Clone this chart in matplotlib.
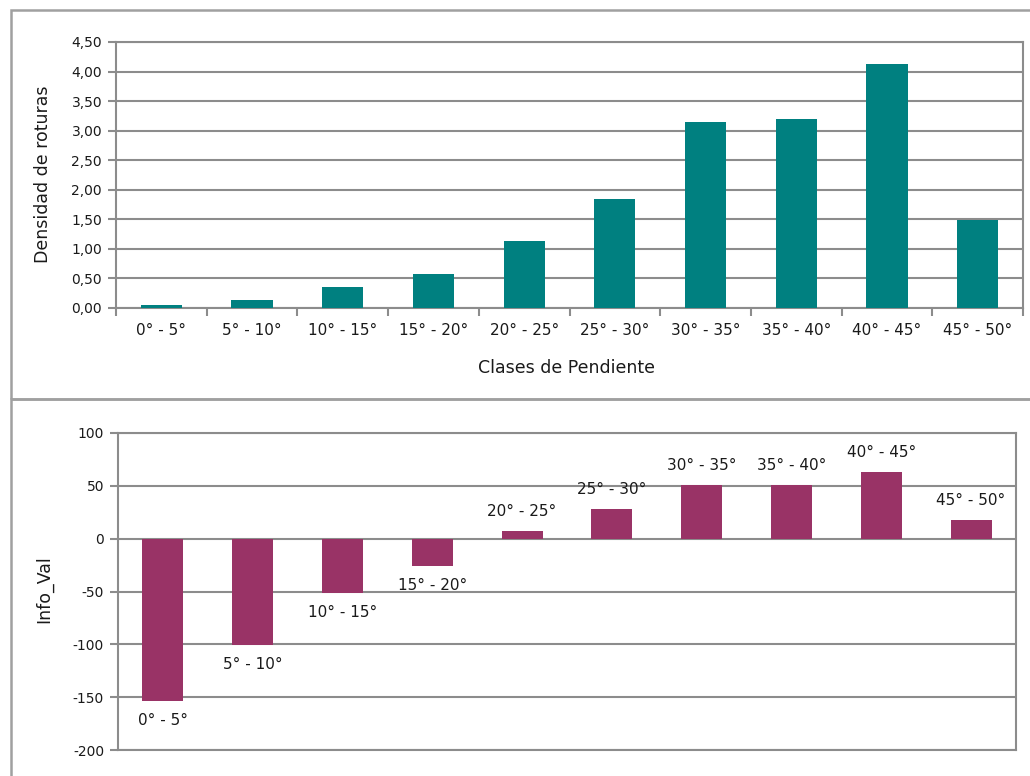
import matplotlib
matplotlib.use("Agg")
import matplotlib.pyplot as plt
from matplotlib.patches import Rectangle
from matplotlib.ticker import FuncFormatter, MultipleLocator
import numpy as np

plt.rcParams['font.family'] = ['DejaVu Sans']
plt.rcParams['axes.unicode_minus'] = False

# Slope classes and the two measures per class
categories = ["0° - 5°", "5° - 10°", "10° - 15°", "15° - 20°", "20° - 25°",
              "25° - 30°", "30° - 35°", "35° - 40°", "40° - 45°", "45° - 50°"]
densidad = [0.05, 0.13, 0.35, 0.58, 1.14, 1.84, 3.15, 3.20, 4.13, 1.49]
info_val = [-154, -101, -51, -26, 7, 28, 51, 51, 63.5, 17.5]

W, H = 1030, 776
fig = plt.figure(figsize=(W / 100, H / 100), dpi=100)

TEXT = '#1a1a1a'
GRID = '#8c8c8c'
FRAME = '#a0a0a0'


def px_axes(left, top, right, bottom):
    return fig.add_axes([left / W, 1 - bottom / H, (right - left) / W, (bottom - top) / H])


def px_text(xp, yp, s, **kw):
    fig.text(xp / W, 1 - yp / H, s, ha='center', va='center', color=TEXT, **kw)


# Panel frames
for (x0, y0, x1, y1) in [(11, 10, 1040, 399), (11, 399, 1040, 790)]:
    fig.patches.append(Rectangle((x0 / W, 1 - y1 / H), (x1 - x0) / W, (y1 - y0) / H,
                                 transform=fig.transFigure, fill=False,
                                 edgecolor=FRAME, linewidth=1.8, zorder=0))

x = np.arange(len(categories))
bw = 1 / 2.2

# ---- Top chart: density of ruptures per slope class ----
ax1 = px_axes(116, 42, 1023, 308)
ax1.bar(x, densidad, width=bw, color='#008080', zorder=3)
ax1.set_xlim(-0.5, len(categories) - 0.5)
ax1.set_ylim(0, 4.5)
ax1.yaxis.set_major_locator(MultipleLocator(0.5))
ax1.yaxis.set_major_formatter(FuncFormatter(lambda v, p: f"{v:.2f}".replace('.', ',')))
ax1.set_xticks(x)
ax1.set_xticklabels(categories)
ax1.set_xticks(np.arange(-0.5, len(categories)), minor=True)
ax1.tick_params(axis='x', which='major', length=0, pad=10.5, labelsize=11, labelcolor=TEXT)
ax1.tick_params(axis='x', which='minor', length=6, width=1.5, color=GRID, direction='out')
ax1.tick_params(axis='y', length=6, width=1.5, color=GRID, pad=4, labelsize=10, labelcolor=TEXT)
ax1.grid(axis='y', color=GRID, linewidth=1.5, zorder=1)
for s in ax1.spines.values():
    s.set_color(GRID)
    s.set_linewidth(1.5)
px_text(567, 368, "Clases de Pendiente", fontsize=12.5)
px_text(43, 174, "Densidad de roturas", fontsize=12.5, rotation=90)

# ---- Bottom chart: information value per slope class ----
ax2 = px_axes(118, 433, 1016, 750)
ax2.bar(x, info_val, width=bw, color='#993366', zorder=3)
ax2.set_xlim(-0.5, len(categories) - 0.5)
ax2.set_ylim(-200, 100)
ax2.yaxis.set_major_locator(MultipleLocator(50))
ax2.set_xticks([])
ax2.tick_params(axis='y', length=6, width=1.5, color=GRID, pad=4, labelsize=10, labelcolor=TEXT)
ax2.grid(axis='y', color=GRID, linewidth=1.5, zorder=1)
for s in ax2.spines.values():
    s.set_color(GRID)
    s.set_linewidth(1.5)
px_text(44, 589, "Info_Val", fontsize=12.5, rotation=90)

for xi, v, lab in zip(x, info_val, categories):
    off = 14 if v >= 0 else -14
    ax2.annotate(lab, (xi, v), xytext=(0, off), textcoords='offset points',
                 ha='center', va='center', fontsize=11, color=TEXT, zorder=4)

fig.savefig("out.png", dpi=100)
